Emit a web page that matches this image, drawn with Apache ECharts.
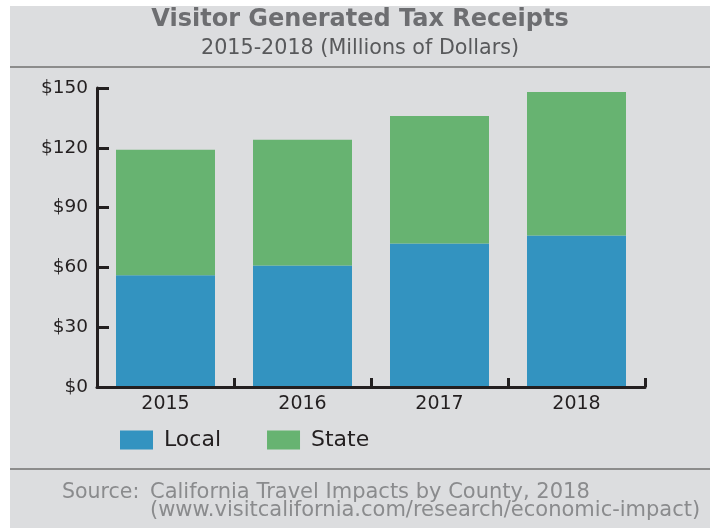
<!DOCTYPE html>
<html><head><meta charset="utf-8">
<script src="https://cdn.jsdelivr.net/npm/echarts@6/dist/echarts.min.js"></script>
<style>html,body{margin:0;padding:0;background:#fff;}#c{width:710px;height:529px;}</style>
</head><body><div id="c"></div>
<script>
const categories = ['2015', '2016', '2017', '2018'];
const localValues = [56, 61, 72, 76];
const stateValues = [63, 63, 64, 72];
const yTicks = [0, 30, 60, 90, 120, 150];

const FONT = 'DejaVu Sans';
const chart = echarts.init(document.getElementById('c'), null, {renderer: 'canvas'});
chart.setOption({
  backgroundColor: '#ffffff',
  animation: false,
  graphic: [
    {type: 'rect', left: 10, top: 6, shape: {width: 700, height: 522}, style: {fill: '#dcdddf'}, z: -10},
    {type: 'rect', left: 10, top: 66, shape: {width: 700, height: 2}, style: {fill: '#8c8c8c'}},
    {type: 'rect', left: 10, top: 468, shape: {width: 700, height: 2}, style: {fill: '#8c8c8c'}},
    {type: 'text', left: 62, top: 482, style: {text: 'Source:', font: '20.5px "' + FONT + '"', fill: '#8a8b8d', lineHeight: 18}},
    {type: 'text', left: 150, top: 482, style: {text: 'California Travel Impacts by County, 2018\n(www.visitcalifornia.com/research/economic-impact)', font: '21px "' + FONT + '"', fill: '#8a8b8d', lineHeight: 18}}
  ],
  title: {
    text: 'Visitor Generated Tax Receipts',
    subtext: '2015-2018 (Millions of Dollars)',
    left: 355, textAlign: 'center', top: 3, itemGap: 6,
    textStyle: {fontFamily: FONT, fontWeight: 'bold', fontSize: 24, color: '#6d6e71'},
    subtextStyle: {fontFamily: FONT, fontSize: 20.7, color: '#58595b'}
  },
  legend: {
    left: 115, top: 424, itemWidth: 33, itemHeight: 19, itemGap: 46,
    icon: 'rect',
    textStyle: {fontFamily: FONT, fontSize: 22, color: '#231f20', padding: [0,0,0,6]},
    data: ['Local', 'State']
  },
  grid: {left: 97, right: 65, top: 88, bottom: 142, containLabel: false},
  xAxis: {
    type: 'category', data: categories, z: 10,
    axisLine: {lineStyle: {color: '#231f20', width: 3}},
    axisTick: {show: true, inside: true, length: 9, interval: 0, lineStyle: {color: '#231f20', width: 3}},
    axisLabel: {fontFamily: FONT, fontSize: 19, color: '#231f20', margin: 8}
  },
  yAxis: {
    type: 'value', min: 0, max: 150, interval: 30, z: 10,
    axisLine: {show: true, lineStyle: {color: '#231f20', width: 3}},
    axisTick: {show: true, inside: true, length: 12, lineStyle: {color: '#231f20', width: 3}},
    splitLine: {show: false},
    axisLabel: {fontFamily: FONT, fontSize: 18.5, color: '#231f20', margin: 9, formatter: v => '$' + v}
  },
  series: [
    {name: 'Local', type: 'bar', stack: 't', data: localValues, barWidth: 99, itemStyle: {color: '#3393c0'}},
    {name: 'State', type: 'bar', stack: 't', data: stateValues, barWidth: 99, itemStyle: {color: '#67b371'}}
  ]
});
</script></body></html>
